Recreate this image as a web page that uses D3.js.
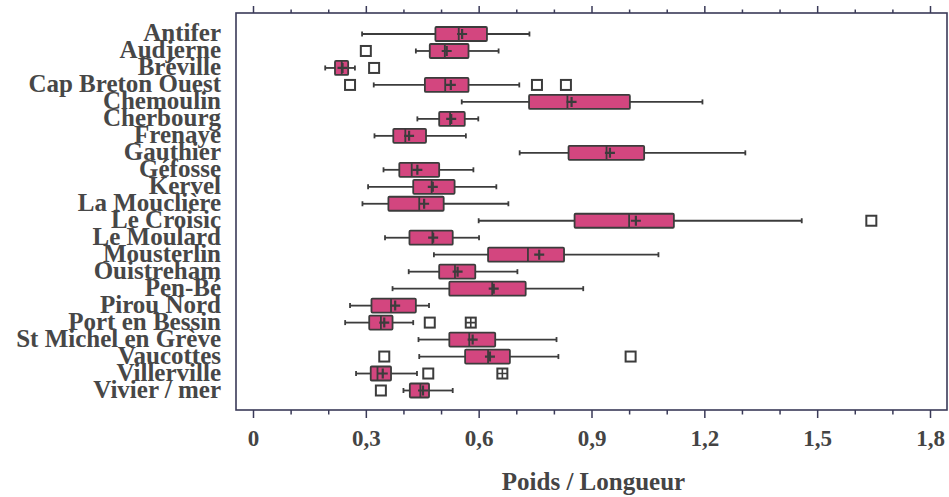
<!DOCTYPE html>
<html>
<head>
<meta charset="utf-8">
<script src="https://cdn.jsdelivr.net/npm/d3@7/dist/d3.min.js"></script>
<style>
  body { margin: 0; background: #fff; }
  svg { display: block; }
</style>
</head>
<body>
<svg id="chart" width="949" height="497"></svg>
<script>
// stations, top to bottom
const sites = ['Antifer', 'Audjerne', 'Bréville', 'Cap Breton Ouest', 'Chemoulin', 'Cherbourg',
  'Frenaye', 'Gauthier', 'Géfosse', 'Kervel', 'La Mouclière', 'Le Croisic', 'Le Moulard',
  'Mousterlin', 'Ouistreham', 'Pen-Bé', 'Pirou Nord', 'Port en Bessin', 'St Michel en Grève',
  'Vaucottes', 'Villerville', 'Vivier / mer'];

const lowWhisker  = [0.29, 0.433, 0.192, 0.321, 0.555, 0.437, 0.323, 0.709, 0.347, 0.306, 0.291,
  0.60, 0.351, 0.481, 0.414, 0.371, 0.258, 0.245, 0.44, 0.442, 0.274, 0.40];
const q1          = [0.485, 0.47, 0.218, 0.457, 0.734, 0.495, 0.373, 0.839, 0.389, 0.426, 0.36,
  0.855, 0.416, 0.625, 0.495, 0.522, 0.315, 0.309, 0.522, 0.564, 0.313, 0.417];
const median      = [0.547, 0.51, 0.236, 0.511, 0.836, 0.524, 0.405, 0.94, 0.422, 0.475, 0.442,
  1.0, 0.477, 0.731, 0.537, 0.636, 0.367, 0.34, 0.575, 0.625, 0.331, 0.445];
const mean        = [0.556, 0.515, 0.238, 0.526, 0.847, 0.527, 0.415, 0.949, 0.437, 0.478, 0.455,
  1.018, 0.479, 0.761, 0.544, 0.64, 0.378, 0.349, 0.584, 0.63, 0.345, 0.452];
const q3          = [0.622, 0.573, 0.253, 0.573, 1.002, 0.563, 0.46, 1.04, 0.495, 0.536, 0.507,
  1.119, 0.531, 0.827, 0.591, 0.725, 0.433, 0.371, 0.644, 0.683, 0.367, 0.468];
const highWhisker = [0.735, 0.653, 0.271, 0.708, 1.195, 0.599, 0.566, 1.309, 0.586, 0.647, 0.679,
  1.459, 0.601, 1.078, 0.703, 0.878, 0.468, 0.426, 0.807, 0.812, 0.436, 0.531];
// single outliers (open squares)
const outliers = [[], [0.30], [0.322], [0.258, 0.755, 0.832], [], [], [], [], [], [], [],
  [1.644], [], [], [], [], [], [0.47], [], [0.349, 1.004], [0.466], [0.34]];
// repeated outliers (squares with a cross)
const repeatOutliers = [[], [], [], [], [], [], [], [], [], [], [],
  [], [], [], [], [], [], [0.579], [], [], [0.663], []];

const xTicks = d3.range(0, 19).map(i => i / 10);
const xTitle = 'Poids / Longueur';

const ink = '#3c3c3c';
const pink = '#d3467f';
const serif = '"Liberation Serif", "Times New Roman", serif';
const frame = {left: 236, right: 947, top: 13, bottom: 410};

const svg = d3.select('#chart');
const x = d3.scaleLinear().domain([0, 1.8]).range([253, 930]);
const y = d3.scalePoint().domain(sites).range([34, 390.5]);
const boxH = 14;

const fr = d3.formatLocale({decimal: ',', thousands: '.', grouping: [3], currency: ['', '€']});
const fmt = fr.format('.1f');
const isMajor = v => Math.round(v * 10) % 3 === 0;

// frame
svg.append('rect')
  .attr('x', frame.left).attr('y', frame.top)
  .attr('width', frame.right - frame.left).attr('height', frame.bottom - frame.top)
  .attr('fill', 'none').attr('stroke', '#3a3a58').attr('stroke-width', 1.6);

// axes
const topAxis = svg.append('g')
  .attr('transform', `translate(0,${frame.top})`)
  .call(d3.axisTop(x).tickValues(xTicks).tickSize(7).tickFormat(''));
const bottomAxis = svg.append('g')
  .attr('transform', `translate(0,${frame.bottom})`)
  .call(d3.axisBottom(x).tickValues(xTicks).tickSize(8).tickPadding(12)
    .tickFormat(d => isMajor(d) ? (d === 0 ? '0' : fmt(d)) : ''));

[topAxis, bottomAxis].forEach(g => {
  g.select('.domain').remove();
  g.selectAll('.tick line').attr('stroke', '#3a3a58').attr('stroke-width', 1.5);
});
topAxis.selectAll('.tick line').attr('y2', d => isMajor(d) ? -7 : -3.5);
bottomAxis.selectAll('.tick line').attr('y2', d => isMajor(d) ? 8 : 4.5);
bottomAxis.selectAll('.tick text')
  .attr('font-family', serif)
  .attr('font-weight', 'bold').attr('font-size', 23).attr('fill', '#444');

svg.append('text')
  .attr('x', (x(0) + x(1.8)) / 2 + 2).attr('y', 490)
  .attr('text-anchor', 'middle')
  .attr('font-family', serif)
  .attr('font-weight', 'bold').attr('font-size', 25).attr('fill', '#444')
  .text(xTitle);

// category labels
svg.append('g').selectAll('text').data(sites).join('text')
  .attr('x', 221).attr('y', d => y(d) + 7)
  .attr('text-anchor', 'end')
  .attr('font-family', serif)
  .attr('font-weight', 'bold').attr('font-size', 25).attr('fill', '#474747')
  .text(d => d);

// boxes
const rows = sites.map((s, i) => ({
  site: s, lo: lowWhisker[i], q1: q1[i], med: median[i], mean: mean[i], q3: q3[i],
  hi: highWhisker[i], out: outliers[i], rep: repeatOutliers[i]
}));

const g = svg.append('g').attr('stroke', ink).attr('stroke-width', 1.8);
const row = g.selectAll('g').data(rows).join('g')
  .attr('transform', d => `translate(0,${y(d.site)})`);

row.append('line').attr('x1', d => x(d.lo)).attr('x2', d => x(d.q1));
row.append('line').attr('x1', d => x(d.q3)).attr('x2', d => x(d.hi));
row.append('line').attr('x1', d => x(d.lo)).attr('x2', d => x(d.lo)).attr('y1', -2.5).attr('y2', 2.5);
row.append('line').attr('x1', d => x(d.hi)).attr('x2', d => x(d.hi)).attr('y1', -2.5).attr('y2', 2.5);
row.append('rect')
  .attr('x', d => x(d.q1)).attr('width', d => x(d.q3) - x(d.q1))
  .attr('y', -boxH / 2).attr('height', boxH)
  .attr('fill', pink).attr('rx', 1);
row.append('line')
  .attr('x1', d => x(d.med)).attr('x2', d => x(d.med))
  .attr('y1', -boxH / 2).attr('y2', boxH / 2);
row.append('path')
  .attr('d', d => `M${x(d.mean) - 5},0H${x(d.mean) + 5}M${x(d.mean)},-5V5`)
  .attr('stroke-width', 2.2);

const sq = 10;
row.selectAll('rect.out').data(d => d.out).join('rect').attr('class', 'out')
  .attr('x', v => x(v) - sq / 2).attr('y', -sq / 2)
  .attr('width', sq).attr('height', sq)
  .attr('fill', '#fff').attr('stroke-width', 2);
const rep = row.selectAll('g.rep').data(d => d.rep).join('g').attr('class', 'rep')
  .attr('transform', v => `translate(${x(v)},0)`);
rep.append('rect')
  .attr('x', -sq / 2).attr('y', -sq / 2).attr('width', sq).attr('height', sq)
  .attr('fill', '#fff').attr('stroke-width', 2);
rep.append('path').attr('d', `M${-sq / 2},0H${sq / 2}M0,${-sq / 2}V${sq / 2}`).attr('stroke-width', 1.6);
</script>
</body>
</html>
